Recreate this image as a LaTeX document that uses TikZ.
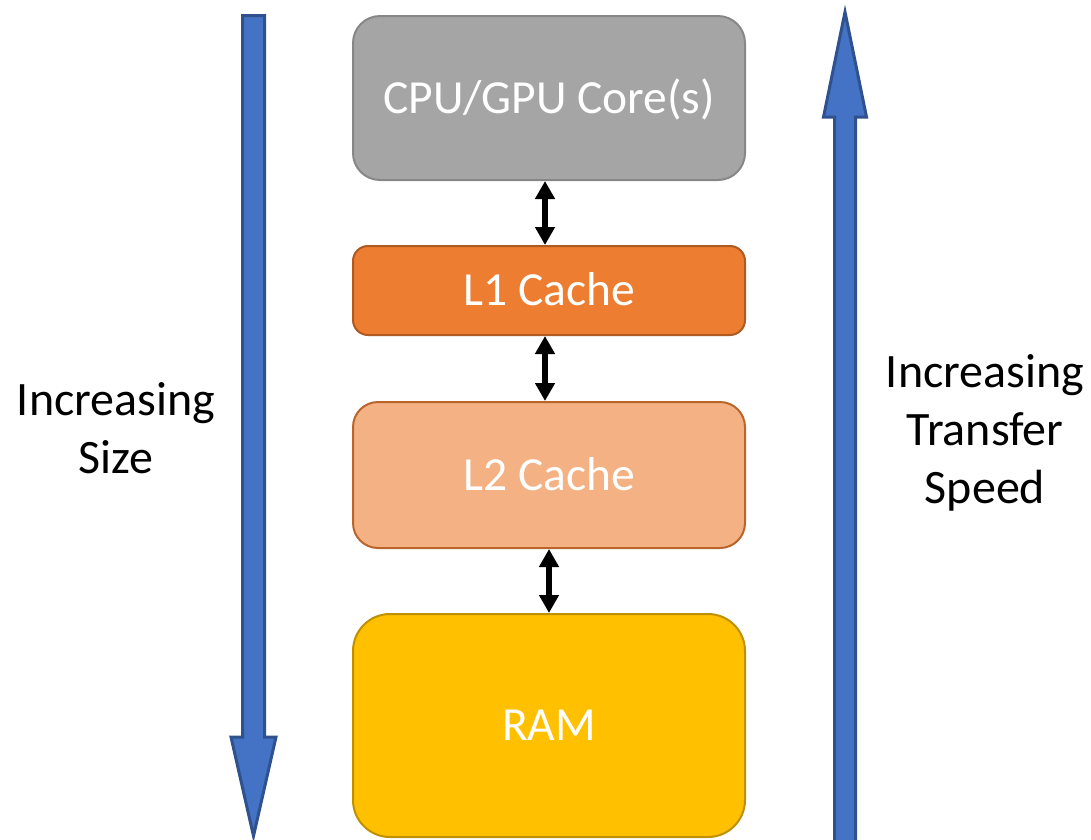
\documentclass[tikz,border=0pt]{standalone}
\usepackage{fontspec}
\setmainfont{Carlito}
\usetikzlibrary{arrows.meta}
\definecolor{cpufill}{HTML}{A5A5A5}
\definecolor{cpuline}{HTML}{878787}
\definecolor{lonefill}{HTML}{ED7D31}
\definecolor{loneline}{HTML}{AE5A21}
\definecolor{ltwofill}{HTML}{F4B183}
\definecolor{ltwoline}{HTML}{B9652B}
\definecolor{ramfill}{HTML}{FFC000}
\definecolor{ramline}{HTML}{BF9000}
\definecolor{bluefill}{HTML}{4472C4}
\definecolor{blueline}{HTML}{2F528F}
\tikzset{
  membox/.style={draw, line width=2pt, minimum width=392pt, inner sep=0pt,
    text=white, font=\fontsize{47.5}{56}\selectfont, text height=30pt, text depth=0pt},
  link/.style={line width=6pt, {Triangle[width=19pt,length=18pt]}-{Triangle[width=19pt,length=18pt]}},
  bigarrow/.style={fill=bluefill, draw=blueline, line width=3pt, line join=miter},
  sidelabel/.style={align=center, font=\fontsize{48}{58}\selectfont, inner sep=0pt}
}
\begin{document}
\begin{tikzpicture}[x=1pt,y=-1pt]
\useasboundingbox (0,0) rectangle (1091,839);
\clip (0,0) rectangle (1091,839);

% big blue arrows
\draw[bigarrow] (242.5,15.5) -- (264.5,15.5) -- (264.5,737) -- (276,737) -- (253.5,836)
  -- (231,737) -- (242.5,737) -- cycle;
\draw[bigarrow] (834.5,850) -- (834.5,117) -- (823.5,117) -- (845,12) -- (866.5,117)
  -- (855.5,117) -- (855.5,850) -- cycle;

% memory boxes
\node[membox, fill=cpufill, draw=cpuline, minimum height=164pt, rounded corners=27pt] (cpu) at (549,98) {CPU/GPU Core(s)};
\node[membox, fill=lonefill, draw=loneline, minimum height=89pt, rounded corners=15pt] (lone) at (549,290.5) {L1 Cache};
\node[membox, fill=ltwofill, draw=ltwoline, minimum height=146pt, rounded corners=25pt] (ltwo) at (549,475) {L2 Cache};
\node[membox, fill=ramfill, draw=ramline, minimum height=223pt, rounded corners=37pt] (ram) at (549,725.5) {RAM};

% links
\draw[link] ([xshift=-4pt]cpu.south) -- ([xshift=-4pt]lone.north);
\draw[link] ([xshift=-4pt]lone.south) -- ([xshift=-4pt]ltwo.north);
\draw[link] (ltwo.south) -- (ram.north);

% side labels
\node[sidelabel] (sizelabel) at (116,428.5) {Increasing\\Size};
\node[sidelabel] (speedlabel) at (985,432.5) {Increasing\\Transfer\\Speed};
\end{tikzpicture}
\end{document}
